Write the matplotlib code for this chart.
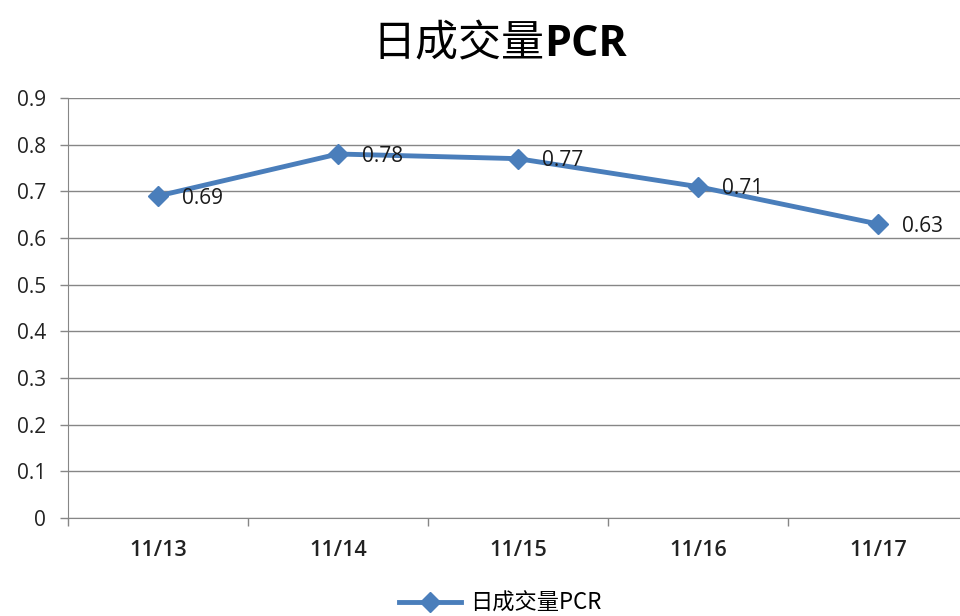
import matplotlib
matplotlib.use("Agg")
import matplotlib.pyplot as plt
from matplotlib.lines import Line2D

plt.rcParams['font.family'] = ['Open Sans', 'Noto Sans CJK SC', 'DejaVu Sans']

categories = ["11/13", "11/14", "11/15", "11/16", "11/17"]
values = [0.69, 0.78, 0.77, 0.71, 0.63]
value_labels = ["0.69", "0.78", "0.77", "0.71", "0.63"]
yticks = [0, 0.1, 0.2, 0.3, 0.4, 0.5, 0.6, 0.7, 0.8, 0.9]
series_name = "日成交量PCR"
title_cjk = "日成交量"
title_latin = "PCR"

color = "#4A7EBB"
grid_c = "#868686"

fig = plt.figure(figsize=(9.6, 6.16), dpi=100)
ax = fig.add_axes([68/960, 1-518/616, 900/960, 420/616])

x = list(range(len(categories)))
ax.plot(x, values, color=color, lw=3.5, marker='D', ms=10, mfc=color, mec=color, zorder=3)
for xi, v, lab in zip(x, values, value_labels):
    ax.annotate(lab, (xi, v), xytext=(17, -1.5), textcoords='offset points',
                ha='left', va='center', fontsize=15, color='#1a1a1a')

ax.set_xlim(-0.5, len(categories) - 0.5)
ax.set_ylim(0, 0.9)
ax.set_yticks(yticks)
ax.set_yticklabels([f"{t:g}" for t in yticks], fontsize=15, color='#222222')
ax.yaxis.grid(True, color=grid_c, lw=1)
ax.set_axisbelow(True)

ax.set_xticks(x)
ax.set_xticklabels(categories, fontsize=15.5, fontweight='semibold', color='#222222')
ax.tick_params(axis='x', length=0, pad=16)
ax.set_xticks([i - 0.5 for i in range(len(categories) + 1)], minor=True)
ax.tick_params(axis='x', which='minor', length=6, color=grid_c, width=1)
ax.tick_params(axis='y', length=6, color=grid_c, width=1, pad=10)

for s in ['top', 'right']:
    ax.spines[s].set_visible(False)
ax.spines['left'].set_color(grid_c)
ax.spines['bottom'].set_color(grid_c)

# Title: CJK regular + Latin bold
fig.canvas.draw()
r = fig.canvas.get_renderer()
t1 = fig.text(0, 0, title_cjk, fontsize=31, family=['Noto Sans CJK SC'], va='baseline')
t2 = fig.text(0, 0, title_latin, fontsize=31, family=['Open Sans'], fontweight='bold', va='baseline')
w1 = t1.get_window_extent(r).width
w2 = t2.get_window_extent(r).width
total = w1 + w2
x0 = (500 - total / 2)
ybase = 1 - 56/616
t1.set_position((x0/960, ybase))
t2.set_position(((x0 + w1)/960, ybase))

handle = Line2D([], [], color=color, lw=3.5, marker='D', ms=10, mfc=color, mec=color)
fig.legend([handle], [series_name], loc='center', bbox_to_anchor=(500/960, 1-603/616),
           frameon=False, handlelength=2.8, handletextpad=0.4,
           prop={'family': ['Noto Sans CJK SC'], 'size': 16})

fig.savefig("out.png", dpi=100)
